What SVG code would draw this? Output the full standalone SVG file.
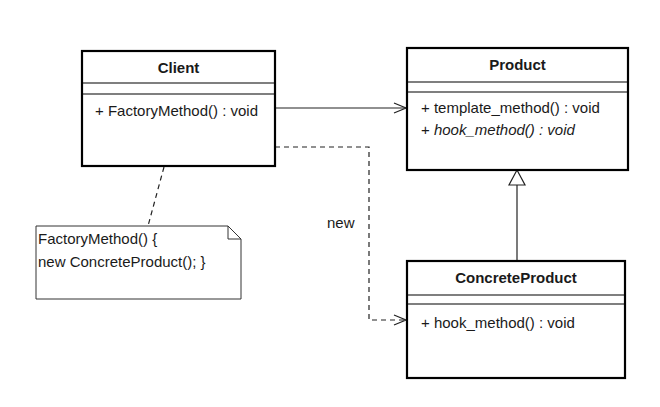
<svg xmlns="http://www.w3.org/2000/svg" width="660" height="407" viewBox="0 0 660 407">
<defs>
<style>
.box{fill:#fff;stroke:#000;stroke-width:2.2}
.div{stroke:#000;stroke-width:1.2}
.t{font-family:"Liberation Sans",Arial,sans-serif;font-size:15px;fill:#1a1a1a}
.b{font-weight:bold;text-anchor:middle;font-size:15px}
.i{font-style:italic}
.ln{fill:none;stroke:#222;stroke-width:1.2}
.dash{stroke-dasharray:5,4}
</style>
<marker id="open" markerWidth="14" markerHeight="12" refX="13" refY="6" orient="auto" markerUnits="userSpaceOnUse">
<path d="M1,1 L13,6 L1,11" fill="none" stroke="#222" stroke-width="1.2"/>
</marker>
</defs>
<rect width="660" height="407" fill="#fff"/>
<g id="connectors">
<line class="ln" x1="275" y1="108" x2="406" y2="108" marker-end="url(#open)"/>
<polyline class="ln dash" points="275,147 369,147 369,320 406,320" marker-end="url(#open)"/>
<line class="ln" x1="517" y1="261" x2="517" y2="185"/>
<polygon points="517,170 509,185 525,185" fill="#fff" stroke="#222" stroke-width="1.2"/>
<line class="ln dash" x1="164" y1="167" x2="148" y2="226"/>
<text class="t" x="327" y="228">new</text>
</g>
<g id="client">
<rect class="box" x="82" y="51" width="193" height="115"/>
<line class="div" x1="82" y1="83" x2="275" y2="83"/>
<line class="div" x1="82" y1="94" x2="275" y2="94"/>
<text class="t b" x="178.5" y="73">Client</text>
<text class="t" x="95" y="116">+ FactoryMethod() : void</text>
</g>
<g id="product">
<rect class="box" x="407" y="48" width="221" height="122"/>
<line class="div" x1="407" y1="82" x2="628" y2="82"/>
<line class="div" x1="407" y1="92" x2="628" y2="92"/>
<text class="t b" x="517.5" y="70">Product</text>
<text class="t" x="421" y="113">+ template_method() : void</text>
<text class="t" x="421" y="135">+ <tspan class="i">hook_method() : void</tspan></text>
</g>
<g id="concreteproduct">
<rect class="box" x="407" y="261" width="218" height="117"/>
<line class="div" x1="407" y1="295" x2="625" y2="295"/>
<line class="div" x1="407" y1="304" x2="625" y2="304"/>
<text class="t b" x="516" y="283">ConcreteProduct</text>
<text class="t" x="421" y="328">+ hook_method() : void</text>
</g>
<g id="note">
<path d="M36,226 L228,226 L241,239 L241,299 L36,299 Z" fill="#fff" stroke="#333" stroke-width="1"/>
<path d="M228,226 L228,239 L241,239" fill="none" stroke="#333" stroke-width="1"/>
<text class="t" x="38" y="244">FactoryMethod() {</text>
<text class="t" x="38" y="267">new ConcreteProduct(); }</text>
</g>
</svg>
